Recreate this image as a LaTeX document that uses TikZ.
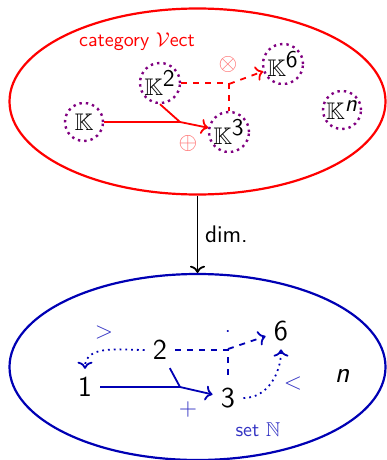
\documentclass[tikz,border=0pt]{standalone}
\usepackage{amssymb}
\usetikzlibrary{arrows.meta, shapes.geometric, positioning, calc}
\renewcommand{\familydefault}{\sfdefault}
\definecolor{catRed}{HTML}{FF0000}
\definecolor{setBlue}{HTML}{0000B4}
\definecolor{objPurple}{HTML}{800080}

\begin{document}
\begin{tikzpicture}[x=0.5pt, y=-0.5pt,
  world/.style={ellipse, draw, line width=1.1pt, minimum width=188pt,
    minimum height=93pt, inner sep=0pt},
  obj/.style={circle, draw=objPurple, dotted, very thick, minimum size=19pt,
    inner sep=0pt, font=\large},
  num/.style={font=\Large, inner sep=4pt},
  link/.style={line width=0.9pt},
  oplabel/.style={font=\large}]
  \useasboundingbox (0,0) rectangle (386,460);
  % the two worlds
  \node[world, draw=catRed] (vect) at (197.5,101.5) {};
  \node[world, draw=setBlue] (nat) at (197.5,367) {};
  \draw[link, ->] (vect.south) -- (nat.north) node[midway, right, font=\large] {dim.};
  % category Vect
  \node[catRed] (vectname) at (137,42) {category $\mathcal{V}$ect};
  \node[obj] (k) at (84,122) {$\mathbb{K}$};
  \node[obj] (k2) at (160,83) {$\mathbb{K}^{\textsf{2}}$};
  \node[obj] (k3) at (229,132) {$\mathbb{K}^{\textsf{3}}$};
  \node[obj] (k6) at (283,64) {$\mathbb{K}^{\textsf{6}}$};
  \node[obj] (kn) at (342,110) {$\mathbb{K}^{\textsf{\itshape n}}$};
  \node[oplabel, catRed!60] (otimes) at (228,65) {$\otimes$};
  \node[oplabel, catRed!60] (oplus) at (188,143) {$\oplus$};
  \coordinate (sumV) at (180,122);
  \coordinate (prodV) at (229,84);
  \draw[catRed, link] (k) -- (sumV);
  \draw[catRed, link] (k2.south) -- (sumV);
  \draw[catRed, link, ->] (sumV) -- (k3);
  \draw[catRed, link, dashed] (k2.east) -| (k3.north);
  \draw[catRed, link, dashed, ->] (prodV) -- (k6);
  % set N
  \node[setBlue!80] (natname) at (258,430) {set $\mathbb{N}$};
  \node[num] (one) at (85,387) {1};
  \node[num] (two) at (160,350) {2};
  \node[num] (three) at (228,398) {3};
  \node[num] (six) at (281,331) {6};
  \node[num] (n) at (342,376) {\itshape n};
  \node[oplabel, setBlue!80] (gt) at (104,332) {$>$};
  \node[oplabel, setBlue!80] (lt) at (293,383) {$<$};
  \node[oplabel, setBlue!80] (plus) at (188,409) {$+$};
  \node[setBlue] (times) at (228,332) {$\cdot$};
  \coordinate (sumN) at (180,387);
  \coordinate (prodN) at (228,349);
  \draw[setBlue, link] (one) -- (sumN);
  \draw[setBlue, link] (two) -- (sumN);
  \draw[setBlue, link, ->] (sumN) -- (three);
  \draw[setBlue, link, dashed] (two) -| (three);
  \draw[setBlue, link, dashed, ->] (prodN) -- (six);
  \draw[setBlue, link, dotted, ->] (two) to[out=180, in=90] (one);
  \draw[setBlue, link, dotted, ->] (three) to[out=0, in=-90] (six);
\end{tikzpicture}
\end{document}
